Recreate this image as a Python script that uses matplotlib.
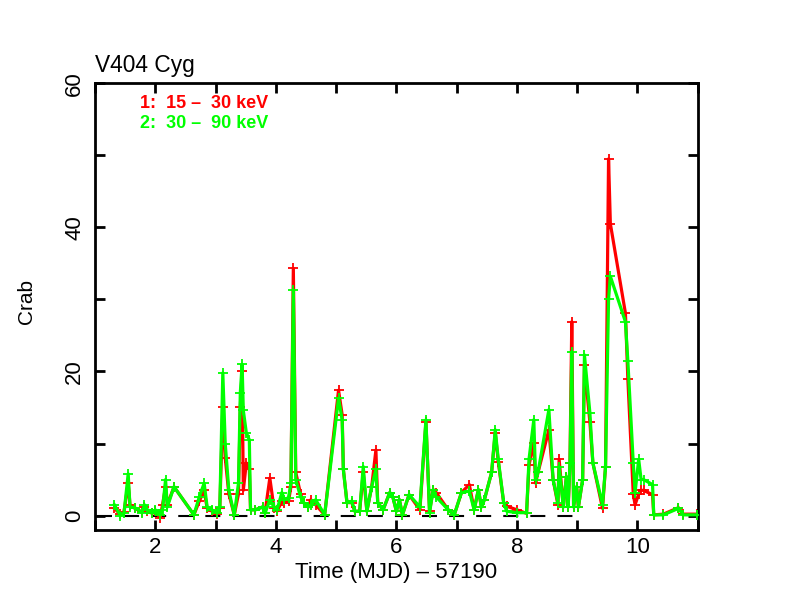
import matplotlib
matplotlib.use("Agg")
import matplotlib.pyplot as plt

# Light curve of V404 Cyg, time in MJD - 57190, flux in Crab
tiempo = [1.32, 1.42, 1.48, 1.55, 1.58, 1.66, 1.78, 1.82, 1.87, 1.95,
          2.00, 2.08, 2.12, 2.17, 2.20, 2.31, 2.64, 2.73, 2.81, 2.86,
          2.94, 3.02, 3.07, 3.12, 3.16, 3.22, 3.31, 3.38, 3.41, 3.44,
          3.46, 3.51, 3.56, 3.58, 3.66, 3.78, 3.82, 3.90, 3.97, 4.02,
          4.10, 4.14, 4.21, 4.25, 4.29, 4.33, 4.41, 4.46, 4.54, 4.58,
          4.66, 4.81, 5.04, 5.10, 5.12, 5.18, 5.26, 5.31, 5.39, 5.45,
          5.51, 5.59, 5.66, 5.69, 5.78, 5.89, 5.94, 6.00, 6.05, 6.10,
          6.21, 6.39, 6.49, 6.55, 6.61, 6.66, 6.86, 6.96, 7.08, 7.21,
          7.29, 7.36, 7.41, 7.46, 7.58, 7.64, 7.69, 7.78, 7.83, 8.00,
          8.16, 8.20, 8.28, 8.31, 8.35, 8.53, 8.60, 8.68, 8.70, 8.77,
          8.82, 8.85, 8.88, 8.91, 8.94, 8.99, 9.02, 9.09, 9.12, 9.21,
          9.26, 9.42, 9.47, 9.52, 9.55, 9.80, 9.84, 9.93, 9.96, 10.02,
          10.06, 10.10, 10.25, 10.27, 10.43, 10.68, 10.76, 10.99]

banda_15_30 = [1.0, 0.2, 0.5, 4.5, 1.5, 1.0, 0.5, 1.2, 0.6, 0.3,
               0.6, -0.3, 1.5, 4.0, 1.5, 4.0, 0.1, 2.0, 3.5, 1.0,
               0.6, 0.2, 1.0, 15.0, 8.0, 3.0, 0.1, 3.0, 15.0, 20.0,
               3.5, 7.3, 6.5, 0.8, 0.8, 1.2, 0.4, 5.2, 1.0, 0.6,
               2.0, 1.8, 2.0, 4.0, 34.3, 6.0, 3.0, 1.8, 1.2, 2.2,
               1.5, 0.1, 17.4, 14.0, 6.4, 1.8, 1.8, 0.6, 0.6, 6.0,
               0.6, 4.0, 9.1, 1.8, 0.8, 3.2, 2.6, 0.6, 2.2, 0.1,
               2.9, 0.8, 13.0, 0.6, 3.6, 3.2, 0.8, 0.1, 3.2, 4.3,
               0.8, 3.6, 1.2, 2.2, 6.0, 11.5, 7.5, 1.8, 1.3, 0.8,
               0.3, 7.0, 10.1, 4.5, 6.0, 11.9, 5.0, 1.5, 7.8, 1.2,
               5.4, 1.2, 7.3, 26.9, 1.2, 4.0, 1.2, 5.0, 20.9, 13.0,
               7.3, 1.0, 6.8, 49.5, 40.5, 28.1, 19.0, 3.0, 1.5, 3.0,
               3.5, 3.5, 2.9, 0.1, 0.2, 1.1, 0.2, 0.2]

banda_30_90 = [1.5, 0.0, 0.3, 5.8, 1.2, 1.1, 0.4, 1.5, 0.8, 0.4,
               0.8, 0.1, 0.8, 5.0, 1.2, 4.0, 0.1, 2.6, 4.5, 1.2,
               0.8, 0.4, 1.2, 19.8, 10.0, 3.5, 0.1, 4.5, 17.0, 21.0,
               14.6, 11.5, 10.5, 0.8, 0.8, 1.2, 0.3, 2.2, 1.2, 0.8,
               3.2, 2.2, 2.5, 4.5, 31.3, 5.0, 2.6, 1.8, 1.2, 1.5,
               2.2, 0.1, 16.3, 13.3, 6.4, 1.8, 2.0, 0.6, 0.6, 6.8,
               0.6, 4.0, 6.4, 1.8, 0.8, 3.2, 2.6, 0.6, 2.2, 0.1,
               2.9, 1.2, 13.3, 0.4, 3.6, 2.6, 0.8, 0.1, 3.2, 3.4,
               0.8, 3.6, 1.2, 2.2, 6.0, 11.9, 7.8, 1.8, 0.6, 0.4,
               0.4, 7.8, 13.3, 5.0, 6.0, 14.7, 5.0, 1.8, 6.8, 1.2,
               5.4, 1.2, 7.3, 22.7, 1.2, 4.0, 1.2, 5.0, 22.3, 14.3,
               7.3, 1.5, 6.8, 30.0, 33.2, 26.9, 21.5, 7.3, 3.2, 7.8,
               5.0, 5.0, 4.3, 0.1, 0.1, 1.0, 0.1, 0.1]

plt.rcParams['font.family'] = ['Liberation Sans', 'DejaVu Sans']

fig = plt.figure(figsize=(7.92, 6.12), dpi=100)
ax = fig.add_axes([0.120, 0.134, 0.761, 0.730])

# linea de cero discontinua
ax.plot([1.03, 8.97], [0, 0], color="black", lw=1.5, dashes=(7.2, 5.8), zorder=1)

ax.plot(tiempo, banda_15_30, color="#ff0000", lw=2.3, marker="+", ms=7, mew=1.3, zorder=2)
ax.plot(tiempo, banda_30_90, color="#00ff00", lw=2.3, marker="+", ms=7, mew=1.3, zorder=3)

ax.set_xlim(1.03, 11.0)
ax.set_ylim(-2, 60)
ax.set_xticks([2, 4, 6, 8, 10])
ax.set_xticks([1, 3, 5, 7, 9, 11], minor=True)
ax.set_yticks([0, 20, 40, 60])
ax.set_yticks([10, 30, 50], minor=True)

for s in ax.spines.values():
    s.set_linewidth(2)
ax.tick_params(which="both", direction="in", length=7.5, width=2,
               top=True, right=True, labelsize=16)
ax.tick_params(axis="x", pad=5)
ax.tick_params(axis="y", pad=7, labelrotation=90)
for lab in ax.get_yticklabels():
    lab.set_va("center")

fig.text(396 / 792, 1 - 578 / 612, "Time (MJD) \u2013 57190", fontsize=16,
         ha="center", va="baseline")
fig.text(27 / 792, 1 - 301 / 612, "Crab", fontsize=15, rotation=90,
         ha="center", va="center")

fig.text(95 / 792, 1 - 72 / 612, "V404 Cyg", fontsize=16.4, ha="left", va="baseline")
fig.text(140 / 792, 1 - 108 / 612, "1:  15 \u2013  30 keV", fontsize=13, fontweight="bold",
         color="#ff0000", ha="left", va="baseline")
fig.text(140 / 792, 1 - 128 / 612, "2:  30 \u2013  90 keV", fontsize=13, fontweight="bold",
         color="#00ff00", ha="left", va="baseline")

fig.savefig("out.png", dpi=100)
